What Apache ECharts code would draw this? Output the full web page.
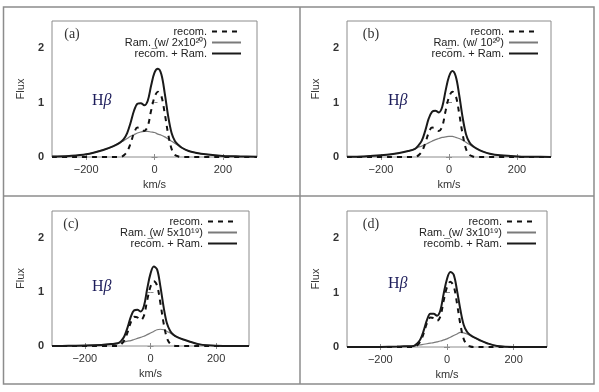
<!DOCTYPE html>
<html>
<head>
<meta charset="utf-8">
<script src="https://cdn.jsdelivr.net/npm/echarts@6/dist/echarts.min.js"></script>
<style>
  html, body { margin: 0; padding: 0; background: #fff; }
  #main { width: 599px; height: 392px; }
</style>
</head>
<body>
<div id="main"></div>
<script>
// velocity grid (km/s)
const vel = [-300, -250, -200, -150, -120, -100, -90, -80, -70, -60, -50, -40, -30, -20, -10,
  0, 10, 20, 30, 40, 50, 60, 70, 80, 100, 120, 150, 200, 250, 300];

// recombination profile, same in every panel
const recom = [0, 0, 0, 0, 0, 0, 0.03, 0.1, 0.25, 0.44, 0.54, 0.53, 0.48, 0.56, 0.85,
  1.1, 1.2, 1.12, 0.8, 0.42, 0.15, 0.04, 0.01, 0, 0, 0, 0, 0, 0, 0];

// Raman component per panel
const ramA = [0.01, 0.02, 0.05, 0.13, 0.2, 0.27, 0.3, 0.34, 0.38, 0.41, 0.44, 0.46, 0.47, 0.47, 0.46,
  0.45, 0.42, 0.4, 0.37, 0.33, 0.29, 0.25, 0.21, 0.17, 0.11, 0.08, 0.05, 0.02, 0.01, 0.005];
const ramB = [0.005, 0.01, 0.03, 0.07, 0.11, 0.15, 0.18, 0.2, 0.23, 0.26, 0.29, 0.32, 0.34, 0.36, 0.37,
  0.38, 0.38, 0.36, 0.34, 0.31, 0.27, 0.23, 0.19, 0.16, 0.1, 0.06, 0.03, 0.01, 0.005, 0];
const ramC = [0, 0.003, 0.008, 0.02, 0.035, 0.05, 0.06, 0.075, 0.09, 0.1, 0.12, 0.14, 0.16, 0.18, 0.21,
  0.24, 0.27, 0.3, 0.31, 0.3, 0.27, 0.24, 0.2, 0.17, 0.12, 0.08, 0.03, 0.005, 0, 0];
const ramD = [0, 0, 0.002, 0.008, 0.015, 0.02, 0.03, 0.04, 0.05, 0.06, 0.07, 0.08, 0.095, 0.11, 0.13,
  0.15, 0.18, 0.21, 0.24, 0.27, 0.26, 0.24, 0.21, 0.18, 0.12, 0.07, 0.02, 0, 0, 0];

// recom. + Ram. per panel
const totA = [0.01, 0.02, 0.05, 0.13, 0.2, 0.27, 0.33, 0.44, 0.63, 0.85, 0.98, 0.99, 0.95, 1.03, 1.31,
  1.55, 1.62, 1.52, 1.17, 0.75, 0.44, 0.29, 0.22, 0.17, 0.11, 0.08, 0.05, 0.02, 0.01, 0.005];
const totB = [0.005, 0.01, 0.03, 0.07, 0.11, 0.15, 0.21, 0.3, 0.48, 0.7, 0.83, 0.85, 0.82, 0.92, 1.22,
  1.48, 1.58, 1.48, 1.14, 0.73, 0.42, 0.27, 0.2, 0.16, 0.1, 0.06, 0.03, 0.01, 0.005, 0];
const totC = [0, 0.003, 0.008, 0.02, 0.035, 0.05, 0.09, 0.175, 0.34, 0.54, 0.66, 0.67, 0.64, 0.74, 1.06,
  1.34, 1.47, 1.42, 1.11, 0.72, 0.42, 0.28, 0.21, 0.17, 0.12, 0.08, 0.03, 0.005, 0, 0];
const totD = [0, 0, 0.002, 0.008, 0.015, 0.02, 0.06, 0.14, 0.3, 0.5, 0.61, 0.61, 0.575, 0.67, 0.98,
  1.25, 1.38, 1.33, 1.04, 0.69, 0.41, 0.28, 0.22, 0.18, 0.12, 0.07, 0.02, 0, 0, 0];

const tags = ['(a)', '(b)', '(c)', '(d)'];
const ramNames = ['Ram. (w/ 2x10²⁰)', 'Ram. (w/ 10²⁰)', 'Ram. (w/ 5x10¹⁹)', 'Ram. (w/ 3x10¹⁹)'];
const sumNames = ['recom. + Ram.', 'recom. + Ram.', 'recom. + Ram.', 'recomb. + Ram.'];
const xTicks = [-200, 0, 200];
const yTicks = [0, 1, 2];

const ramAll = [ramA, ramB, ramC, ramD];
const totAll = [totA, totB, totC, totD];

// layout of the four panels (pixels)
const boxes = [
  { left: 52, top: 21, width: 205, height: 136, legRight: 357, tagX: 72, hbX: 92, hbY: 101 },
  { left: 347, top: 21, width: 204, height: 136, legRight: 60, tagX: 371, hbX: 388, hbY: 101 },
  { left: 52, top: 211, width: 197, height: 135, legRight: 361, tagX: 71, hbX: 92, hbY: 287 },
  { left: 347, top: 211, width: 200, height: 136, legRight: 62, tagX: 371, hbX: 388, hbY: 284 }
];

const frameCol = '#8c8c8c';
const sans = 'Liberation Sans Narrow, Liberation Sans, Arial, sans-serif';

const pairs = ys => vel.map((v, i) => [v, ys[i]]);
const minus = v => (v < 0 ? '\u2212' + Math.abs(v) : String(v));

let grid = [], xAxis = [], yAxis = [], series = [], legend = [], graphic = [];

boxes.forEach((b, i) => {
  grid.push({
    left: b.left, top: b.top, width: b.width, height: b.height,
    show: true, borderColor: frameCol, borderWidth: 1, backgroundColor: 'transparent'
  });

  // bottom + mirrored top x axis
  xAxis.push({
    gridIndex: i, type: 'value', min: -300, max: 300,
    axisLine: { show: false },
    axisTick: { inside: true, length: 3, customValues: xTicks, lineStyle: { color: frameCol } },
    axisLabel: { customValues: xTicks, formatter: minus, margin: 7, color: '#333',
      fontFamily: sans, fontSize: 11 },
    splitLine: { show: false },
    name: 'km/s', nameLocation: 'middle', nameGap: 22,
    nameTextStyle: { color: '#333', fontFamily: sans, fontSize: 11 }
  });
  xAxis.push({
    gridIndex: i, type: 'value', min: -300, max: 300, position: 'top',
    axisLine: { show: false },
    axisTick: { inside: true, length: 3, customValues: xTicks, lineStyle: { color: frameCol } },
    axisLabel: { show: false }, splitLine: { show: false }
  });

  // left + mirrored right y axis
  yAxis.push({
    gridIndex: i, type: 'value', min: 0, max: 2.5,
    axisLine: { show: false },
    axisTick: { inside: true, length: 3, customValues: yTicks, lineStyle: { color: frameCol } },
    axisLabel: { customValues: yTicks, margin: 8, color: '#333', fontWeight: 'bold',
      fontFamily: sans, fontSize: 11 },
    splitLine: { show: false },
    name: 'Flux', nameLocation: 'middle', nameGap: 26,
    nameTextStyle: { color: '#333', fontFamily: sans, fontSize: 11 }
  });
  yAxis.push({
    gridIndex: i, type: 'value', min: 0, max: 2.5, position: 'right',
    axisLine: { show: false },
    axisTick: { inside: true, length: 3, customValues: yTicks, lineStyle: { color: frameCol } },
    axisLabel: { show: false }, splitLine: { show: false }
  });

  const common = { type: 'line', xAxisIndex: 2 * i, yAxisIndex: 2 * i, symbol: 'none',
    smooth: 0.35, animation: false, silent: true };

  series.push(Object.assign({}, common, {
    name: 'recom.', data: pairs(recom), z: 3,
    itemStyle: { color: '#111' },
    lineStyle: { color: '#111', width: 2, type: [5, 5] }
  }));
  series.push(Object.assign({}, common, {
    name: ramNames[i], data: pairs(ramAll[i]), z: 2,
    itemStyle: { color: '#7a7a7a' },
    lineStyle: { color: '#7a7a7a', width: 1.2 }
  }));
  series.push(Object.assign({}, common, {
    name: sumNames[i], data: pairs(totAll[i]), z: 4,
    itemStyle: { color: '#1a1a1a' },
    lineStyle: { color: '#1a1a1a', width: 2 }
  }));

  legend.push({
    orient: 'vertical', align: 'right', right: b.legRight, top: b.top + 5,
    padding: 0, itemGap: 0, itemWidth: 29, itemHeight: 10,
    selectedMode: false,
    itemStyle: { opacity: 0 },
    data: ['recom.', ramNames[i], sumNames[i]],
    textStyle: { color: '#222', fontFamily: sans, fontSize: 11, lineHeight: 11 }
  });

  graphic.push({
    type: 'text', x: b.tagX, y: b.top + 13,
    style: { text: tags[i], fill: '#333', font: '14px "Liberation Serif", serif',
      align: 'center', verticalAlign: 'middle' }
  });
  graphic.push({
    type: 'text', x: b.hbX, y: b.hbY,
    style: {
      text: '{h|H}{b|β}', verticalAlign: 'middle',
      rich: {
        h: { fill: '#1c1c5a', font: '16px "Liberation Serif", serif' },
        b: { fill: '#1c1c5a', font: 'italic 16px "Liberation Serif", serif' }
      }
    }
  });
});

// table rules around the panels
graphic.push({
  type: 'rect', shape: { x: 3.5, y: 7, width: 590.5, height: 377 },
  style: { fill: 'none', stroke: frameCol, lineWidth: 1.5 }, z: -1
});
graphic.push({
  type: 'line', shape: { x1: 300, y1: 7, x2: 300, y2: 384 },
  style: { stroke: frameCol, lineWidth: 1.5 }, z: -1
});
graphic.push({
  type: 'line', shape: { x1: 3.5, y1: 196, x2: 594, y2: 196 },
  style: { stroke: frameCol, lineWidth: 1.5 }, z: -1
});

const chart = echarts.init(document.getElementById('main'), null, { renderer: 'canvas' });
chart.setOption({
  backgroundColor: '#fff',
  animation: false,
  grid: grid,
  xAxis: xAxis,
  yAxis: yAxis,
  legend: legend,
  series: series,
  graphic: graphic
});
</script>
</body>
</html>
